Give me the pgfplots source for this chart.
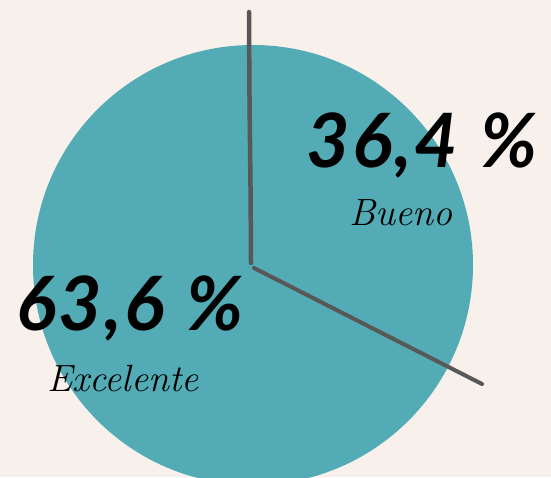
\documentclass[border=0pt]{standalone}
\usepackage{pgfplots}
\pgfplotsset{compat=1.18}
\usepackage{fontspec}
\newfontfamily\numfont{Lato}[LetterSpace=3]
\definecolor{bgc}{RGB}{247,240,235}
\definecolor{pie}{RGB}{82,171,181}
\definecolor{lin}{RGB}{88,88,88}
\begin{document}
\begin{tikzpicture}
\begin{axis}[
  width=551pt, height=477pt, scale only axis,
  xmin=0, xmax=551, ymin=0, ymax=477,
  axis lines=none, clip=true,
]
\fill[bgc] (axis cs:0,0) rectangle (axis cs:551,477);
\fill[pie] (axis cs:253,212) circle [radius=220];
% divider lines (pie slice borders)
\addplot[lin, line width=4.5pt, line cap=round, no marks, smooth] coordinates {(249,465) (249.5,380) (250.5,290) (251,214)};
\addplot[lin, line width=4pt, line cap=round, no marks] coordinates {(254,209) (482,93)};
% labels
\node[font=\numfont\bfseries\itshape\fontsize{75}{75}\selectfont, anchor=base] at (axis cs:422,309) {36,4\hspace{0.3em}\%};
\node[font=\itshape\fontsize{38}{38}\selectfont, anchor=base] at (axis cs:401,251) {Bueno};
\node[font=\numfont\bfseries\itshape\fontsize{75}{75}\selectfont, anchor=base] at (axis cs:130,147) {63,6\hspace{0.3em}\%};
\node[font=\itshape\fontsize{38}{38}\selectfont, anchor=base] at (axis cs:123,86) {Excelente};
\end{axis}
\end{tikzpicture}
\end{document}
